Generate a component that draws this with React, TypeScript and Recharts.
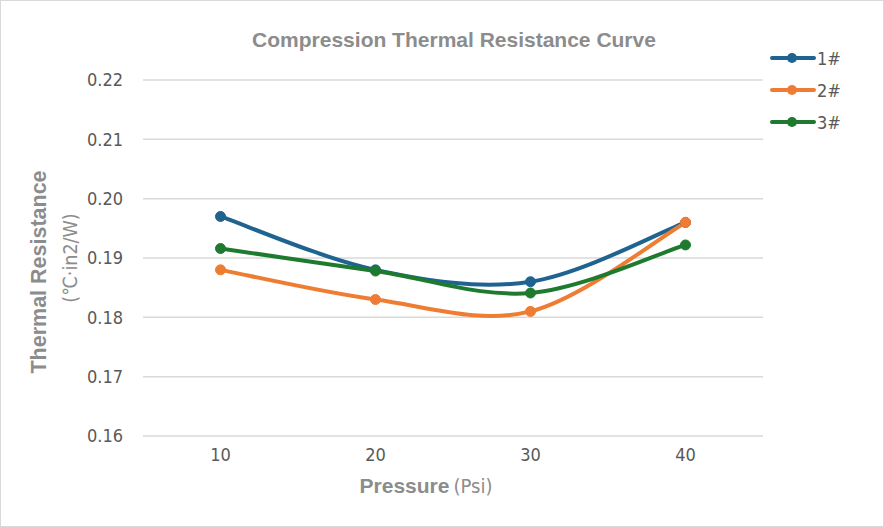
import React from 'react';
import { LineChart, Line, XAxis, YAxis, CartesianGrid, Legend, Customized } from 'recharts';

const pressures = [10, 20, 30, 40];
const series1 = [0.197, 0.188, 0.186, 0.196];
const series2 = [0.188, 0.183, 0.181, 0.196];
const series3 = [0.1916, 0.1878, 0.1841, 0.1922];
const yTicks = [0.16, 0.17, 0.18, 0.19, 0.2, 0.21, 0.22];
const xTicks = [10, 20, 30, 40];
const seriesNames = ['1#', '2#', '3#'];
const colors = ['#1F6390', '#EE7D33', '#1E7A2E'];

const data = pressures.map((p, i) => ({ p, s1: series1[i], s2: series2[i], s3: series3[i] }));

// Excel-like smooth curve (Catmull-Rom style Bezier)
function excelCurve(context: any) {
  let pts: number[][] = [];
  return {
    areaStart() {},
    areaEnd() {},
    lineStart() {
      pts = [];
    },
    point(x: number, y: number) {
      pts.push([+x, +y]);
    },
    lineEnd() {
      const n = pts.length;
      if (!n) return;
      context.moveTo(pts[0][0], pts[0][1]);
      for (let i = 0; i < n - 1; i++) {
        const p0 = pts[Math.max(i - 1, 0)];
        const p1 = pts[i];
        const p2 = pts[i + 1];
        const p3 = pts[Math.min(i + 2, n - 1)];
        context.bezierCurveTo(
          p1[0] + (p2[0] - p0[0]) / 6,
          p1[1] + (p2[1] - p0[1]) / 6,
          p2[0] - (p3[0] - p1[0]) / 6,
          p2[1] - (p3[1] - p1[1]) / 6,
          p2[0],
          p2[1]
        );
      }
    },
  };
}

const tickFont = '"Liberation Sans Narrow", "DejaVu Sans Condensed", "Liberation Sans", sans-serif';
const titleFont = '"Liberation Sans", Arial, sans-serif';

const renderLegend = (props: any) => {
  const { payload } = props;
  return (
    <div style={{ display: 'flex', flexDirection: 'column' }}>
      {payload.map((entry: any, i: number) => (
        <div key={i} style={{ display: 'flex', alignItems: 'center', height: 32 }}>
          <svg width={46} height={14} style={{ display: 'block' }}>
            <line x1={2} y1={7} x2={44} y2={7} stroke={entry.color} strokeWidth={4} strokeLinecap="round" />
            <circle cx={22} cy={7} r={5} fill={entry.color} />
          </svg>
          <span style={{ fontFamily: tickFont, fontSize: 18, color: '#595959', marginLeft: 1 }}>{entry.value}</span>
        </div>
      ))}
    </div>
  );
};

const Titles = () => (
  <g>
    <text x={454} y={47} textAnchor="middle" fontFamily={titleFont} fontWeight="bold" fontSize={21} fill="#8c8c8c">
      Compression Thermal Resistance Curve
    </text>
    <text
      x={46}
      y={272}
      transform="rotate(-90 46 272)"
      textAnchor="middle"
      fontFamily={titleFont}
      fontWeight="bold"
      fontSize={21.5}
      fill="#8c8c8c"
    >
      Thermal Resistance
    </text>
    <text
      x={77}
      y={258}
      transform="rotate(-90 77 258)"
      textAnchor="middle"
      fontFamily={tickFont}
      fontSize={19.5}
      fill="#8c8c8c"
    >
      (℃·in2/W)
    </text>
    <text x={426} y={493} textAnchor="middle" fill="#8c8c8c">
      <tspan fontFamily={titleFont} fontWeight="bold" fontSize={21}>Pressure</tspan>
      <tspan fontFamily={tickFont} fontSize={20} dx={4}>(Psi)</tspan>
    </text>
  </g>
);

export default function App() {
  return (
    <div style={{ position: 'absolute', left: 0, top: 0, width: 884, height: 527, background: '#fff' }}>
      <LineChart width={884} height={527} data={data} margin={{ top: 80, right: 21, bottom: 61, left: 83 }}>
        <CartesianGrid vertical={false} stroke="#d9d9d9" strokeWidth={1.5} />
        <XAxis
          dataKey="p"
          type="number"
          domain={[5, 45]}
          ticks={xTicks}
          axisLine={false}
          tickLine={false}
          tickSize={0}
          tickMargin={12}
          height={30}
          tick={{ fill: '#595959', fontSize: 18, fontFamily: tickFont }}
        />
        <YAxis
          type="number"
          domain={[0.16, 0.22]}
          ticks={yTicks}
          tickFormatter={(v: number) => v.toFixed(2)}
          axisLine={false}
          tickLine={false}
          tickSize={0}
          tickMargin={20}
          width={60}
          tick={{ fill: '#595959', fontSize: 18, fontFamily: tickFont }}
        />
        <Legend
          content={renderLegend}
          layout="vertical"
          verticalAlign="top"
          align="right"
          width={100}
          wrapperStyle={{ position: 'absolute', left: 770, top: 42, width: 100 }}
        />
        <Line name={seriesNames[0]} dataKey="s1" type={excelCurve as any} stroke={colors[0]} strokeWidth={4}
          dot={{ r: 5, fill: colors[0], stroke: colors[0], strokeWidth: 1 }} isAnimationActive={false} />
        <Line name={seriesNames[1]} dataKey="s2" type={excelCurve as any} stroke={colors[1]} strokeWidth={4}
          dot={{ r: 5, fill: colors[1], stroke: colors[1], strokeWidth: 1 }} isAnimationActive={false} />
        <Line name={seriesNames[2]} dataKey="s3" type={excelCurve as any} stroke={colors[2]} strokeWidth={4}
          dot={{ r: 5, fill: colors[2], stroke: colors[2], strokeWidth: 1 }} isAnimationActive={false} />
        <Customized component={Titles} />
      </LineChart>
      <div
        style={{
          position: 'absolute',
          left: 0,
          top: 0,
          width: 884,
          height: 527,
          boxSizing: 'border-box',
          border: '1.5px solid #d9d9d9',
          pointerEvents: 'none',
        }}
      />
    </div>
  );
}
